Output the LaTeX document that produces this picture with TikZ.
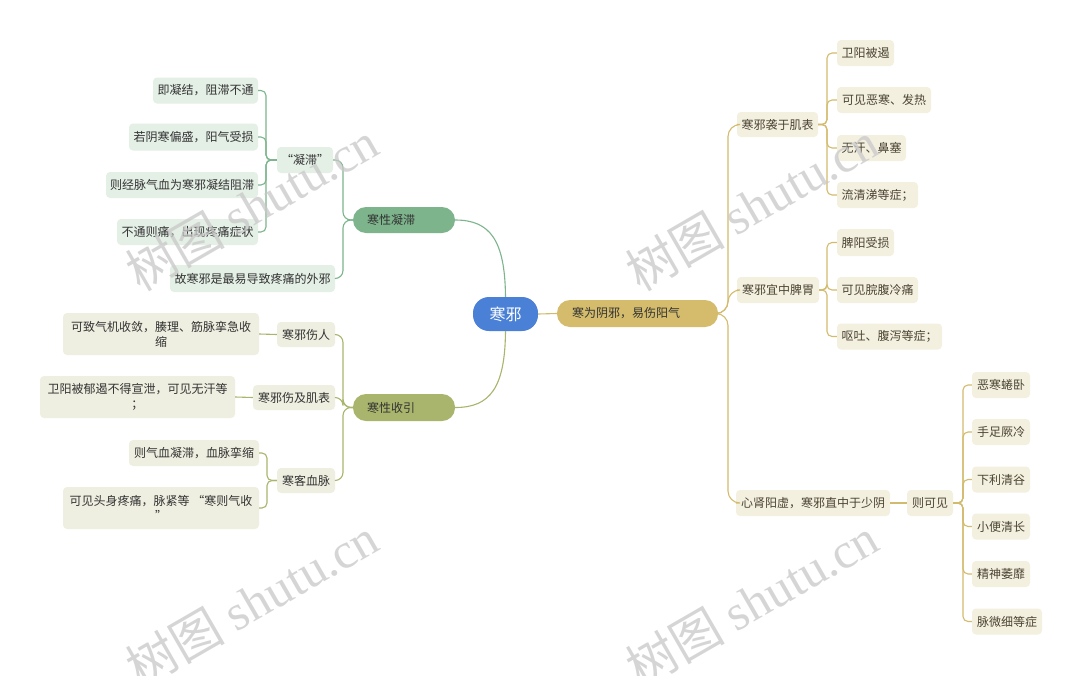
\documentclass[tikz,border=0pt]{standalone}
\usepackage{fontspec}
\setmainfont{Noto Sans CJK SC}
\newfontfamily\wmlatin{Liberation Serif}
\definecolor{rootblue}{HTML}{4A80D6}
\definecolor{gold}{HTML}{D4BC6C}
\definecolor{goldline}{HTML}{D3BB6E}
\definecolor{greenpill}{HTML}{7DB48C}
\definecolor{greenline}{HTML}{7DB48C}
\definecolor{olivepill}{HTML}{A9B46C}
\definecolor{oliveline}{HTML}{A9B46C}
\definecolor{leafgreen}{HTML}{E4EFE6}
\definecolor{leafolive}{HTML}{EFEFE1}
\definecolor{leafgold}{HTML}{F4F0E0}
\definecolor{txt}{HTML}{333333}
\definecolor{txtgold}{HTML}{4A4432}
\definecolor{wm}{HTML}{C8C8C8}
\tikzset{
  x=1pt, y=-1pt,
  base/.style={inner sep=0pt, font=\fontsize{12}{15}\selectfont, align=center},
  lg/.style={base, fill=leafgreen, rounded corners=4pt, text=txt},
  lo/.style={base, fill=leafolive, rounded corners=4pt, text=txt},
  ly/.style={base, fill=leafgold, rounded corners=4pt, text=txtgold},
  pill/.style={base, rounded corners=13pt, text=txt, align=left, inner xsep=14pt},
  gl/.style={draw=greenline, line width=1.1pt, rounded corners=8pt},
  ol/.style={draw=oliveline, line width=1.1pt, rounded corners=8pt},
  yl/.style={draw=goldline, line width=1.1pt, rounded corners=8pt},
  wmark/.style={text=wm, opacity=0.75, rotate=30, font=\fontsize{50}{52}\selectfont, inner sep=0pt}
}
\begin{document}
\begin{tikzpicture}
\useasboundingbox (0,0) rectangle (1082,675);
\fill[white] (0,0) rectangle (1082,675);

% root and main branches
\node[base, fill=rootblue, rounded corners=16pt, text=white, font=\fontsize{16}{18}\selectfont, minimum width=65, minimum height=34] (root) at (505.5,314) {寒邪};
\node[pill, fill=gold, text width=131, minimum height=27, inner xsep=15pt] (main) at (637.5,313.5) {寒为阴邪，易伤阳气};
\node[pill, fill=greenpill, text width=74, minimum height=26] (ning) at (404,220) {寒性凝滞};
\node[pill, fill=olivepill, text width=74, minimum height=27] (shou) at (404,407.5) {寒性收引};

% left upper subtree
\node[lg, minimum width=56, minimum height=26] (nz) at (305,160) {“凝滞”};
\node[lg, minimum width=105, minimum height=26] (a1) at (205.5,90.5) {即凝结，阻滞不通};
\node[lg, minimum width=129, minimum height=27] (a2) at (193.5,137) {若阴寒偏盛，阳气受损};
\node[lg, minimum width=152, minimum height=26] (a3) at (182,185) {则经脉气血为寒邪凝结阻滞};
\node[lg, minimum width=141, minimum height=26] (a4) at (187.5,232) {不通则痛，出现疼痛症状};
\node[lg, minimum width=165, minimum height=27] (a5) at (252.5,278.5) {故寒邪是最易导致疼痛的外邪};

% left lower subtree
\node[lo, minimum width=58, minimum height=25] (b1) at (306,334.5) {寒邪伤人};
\node[lo, minimum width=196, minimum height=42] (b1a) at (161,334) {可致气机收敛，腠理、筋脉挛急收\\缩};
\node[lo, minimum width=82, minimum height=25] (b2) at (294,397.5) {寒邪伤及肌表};
\node[lo, minimum width=195, minimum height=42] (b2a) at (137.5,397) {卫阳被郁遏不得宣泄，可见无汗等\\；};
\node[lo, minimum width=58, minimum height=25] (b3) at (306,480.5) {寒客血脉};
\node[lo, minimum width=130, minimum height=26] (b3a) at (194,453) {则气血凝滞，血脉挛缩};
\node[lo, minimum width=196, minimum height=42] (b3b) at (161,508) {可见头身疼痛，脉紧等 “寒则气收\\”};

% right subtree
\node[ly, minimum width=81, minimum height=25] (c1) at (777.5,124.5) {寒邪袭于肌表};
\node[ly, minimum width=57, minimum height=26] (c1a) at (865.5,53) {卫阳被遏};
\node[ly, minimum width=94, minimum height=26] (c1b) at (884,100) {可见恶寒、发热};
\node[ly, minimum width=69, minimum height=26] (c1c) at (871.5,148) {无汗、鼻塞};
\node[ly, minimum width=81, minimum height=26] (c1d) at (877.5,195) {流清涕等症；};
\node[ly, minimum width=82, minimum height=26] (c2) at (778,290) {寒邪宜中脾胃};
\node[ly, minimum width=57, minimum height=27] (c2a) at (865.5,242.5) {脾阳受损};
\node[ly, minimum width=81, minimum height=26] (c2b) at (877.5,290) {可见脘腹冷痛};
\node[ly, minimum width=105, minimum height=26] (c2c) at (889.5,336.5) {呕吐、腹泻等症；};
\node[ly, minimum width=154, minimum height=26] (c3) at (813,503) {心肾阳虚，寒邪直中于少阴};
\node[ly, minimum width=46, minimum height=26] (c3k) at (930,503) {则可见};
\node[ly, minimum width=58, minimum height=26] (d1) at (1001,385) {恶寒蜷卧};
\node[ly, minimum width=58, minimum height=26] (d2) at (1001,432) {手足厥冷};
\node[ly, minimum width=58, minimum height=26] (d3) at (1001,479.5) {下利清谷};
\node[ly, minimum width=58, minimum height=26] (d4) at (1001,526.5) {小便清长};
\node[ly, minimum width=58, minimum height=26] (d5) at (1001,574) {精神萎靡};
\node[ly, minimum width=70, minimum height=26] (d6) at (1007,621.5) {脉微细等症};

% connectors: root
\draw[yl] (root.east) -- (main.west);
\draw[draw=greenline, line width=1.1pt] (root.north) .. controls (505,240) and (490,220) .. (ning.east);
\draw[draw=oliveline, line width=1.1pt] (root.south) .. controls (505,388) and (490,407.5) .. (shou.east);

% green subtree
\draw[gl] (ning.west) -- (343,220) |- (nz.east);
\draw[gl] (ning.west) -- (343,220) |- (a5.east);
\foreach \n in {a1,a2,a3,a4} \draw[gl, rounded corners=5pt] (nz.west) -- (266,160) |- (\n.east);

% olive subtree
\foreach \n in {b1,b2,b3} \draw[ol] (shou.west) -- (343,407.5) |- (\n.east);
\draw[ol] (b1.west) -- (b1a.east);
\draw[ol] (b2.west) -- (b2a.east);
\foreach \n in {b3a,b3b} \draw[ol, rounded corners=5pt] (b3.west) -- (267,480.5) |- (\n.east);

% gold subtree
\foreach \n in {c1,c2,c3} \draw[yl, rounded corners=12pt] (main.east) -- (728,313.5) |- (\n.west);
\foreach \n in {c1a,c1b,c1c,c1d} \draw[yl, rounded corners=5pt] (c1.east) -- (827,124.5) |- (\n.west);
\foreach \n in {c2a,c2b,c2c} \draw[yl, rounded corners=5pt] (c2.east) -- (827,290) |- (\n.west);
\draw[yl] (c3.east) -- (c3k.west);
\foreach \n in {d1,d2,d3,d4,d5,d6} \draw[yl, rounded corners=5pt] (c3k.east) -- (963,503) |- (\n.west);

% watermarks
\node[wmark] (w1) at (252,206) {树图 {\wmlatin shutu.cn}};
\node[wmark] (w2) at (752,206) {树图 {\wmlatin shutu.cn}};
\node[wmark] (w3) at (252,602) {树图 {\wmlatin shutu.cn}};
\node[wmark] (w4) at (752,602) {树图 {\wmlatin shutu.cn}};
\end{tikzpicture}
\end{document}
